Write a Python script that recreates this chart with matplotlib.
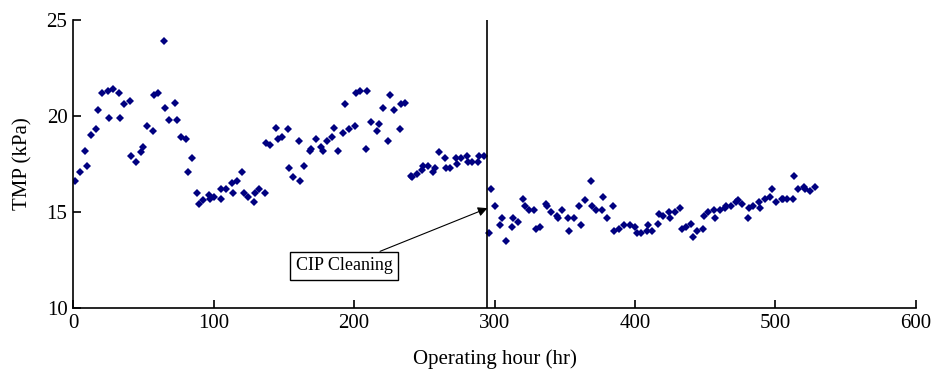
import matplotlib
matplotlib.use('Agg')
import matplotlib.pyplot as plt

# operating hour (hr) and TMP (kPa)
hours = [1.4, 4.7, 8.3, 9.7, 12.6, 16.6, 17.6, 20.6, 24.7, 25.6, 28.7, 32.7, 33.7, 36.5,
         40.6, 41.5, 44.8, 48.4, 49.6, 52.7, 56.7, 57.7, 60.5, 64.8, 65.7, 68.5, 72.6,
         73.8, 76.6, 80.6, 81.6, 84.7, 88.5, 89.4, 92.7, 96.6, 97.5, 100.6, 105.1, 105.6,
         108.6, 113.2, 113.6, 116.7, 120.3, 121.5, 124.6, 128.8, 129.5, 132.4, 136.4,
         137.4, 140.4, 144.5, 145.7, 148.5, 152.8, 153.5, 156.6, 160.6, 161.6, 164.6,
         168.4, 169.4, 172.7, 176.5, 177.7, 180.5, 184.3, 185.5, 188.4, 192.4, 193.6,
         196.4, 200.7, 201.4, 204.3, 208.5, 209.5, 212.3, 216.4, 217.6, 220.4, 224.4,
         225.6, 228.5, 232.5, 233.5, 236.5, 240.6, 241.5, 244.6, 248.4, 249.3, 252.5,
         256.4, 257.4, 260.5, 264.5, 265.5, 268.5, 272.4, 273.3, 276.4, 280.4, 281.4,
         284.2, 288.3, 289.2, 292.3, 296.3, 297.3, 300.4, 304.2, 305.3, 308.4, 312.2,
         313.4, 316.5, 320.3, 321.5, 324.3, 328.3, 329.3, 332.4, 336.4, 337.4, 340.2,
         344.3, 345.2, 348.3, 352.3, 353.3, 356.3, 360.1, 361.3, 364.4, 368.4, 369.4,
         372.2, 376.3, 377.2, 380.3, 384.1, 385.3, 388.4, 392.2, 396.2, 400.2, 401.2,
         404.3, 408.3, 409.3, 412.3, 416.1, 417.1, 420.1, 424.2, 425.1, 428.2, 432.2,
         433.2, 436.3, 440.1, 441.3, 444.3, 448.2, 449.1, 452.2, 456.2, 457.2, 460.3,
         464.1, 465.0, 468.1, 472.1, 473.1, 476.2, 480.2, 481.1, 484.2, 488.3, 489.2,
         492.3, 496.3, 497.3, 500.4, 504.4, 505.3, 508.4, 512.2, 513.2, 516.2, 520.3,
         521.2, 524.3, 528.4]
tmp = [16.6, 17.1, 18.2, 17.4, 19.0, 19.3, 20.3, 21.2, 21.3, 19.9, 21.4, 21.2, 19.9, 20.6,
       20.8, 17.9, 17.6, 18.1, 18.4, 19.5, 19.2, 21.1, 21.2, 23.9, 20.4, 19.8, 20.7,
       19.8, 18.9, 18.8, 17.1, 17.8, 16.0, 15.4, 15.6, 15.9, 15.7, 15.8, 16.2, 15.7,
       16.2, 16.5, 16.0, 16.6, 17.1, 16.0, 15.8, 15.5, 16.0, 16.2, 16.0,
       18.6, 18.5, 19.4, 18.8, 18.9, 19.3, 17.3, 16.8, 18.7, 16.6, 17.4,
       18.2, 18.3, 18.8, 18.4, 18.2, 18.7, 18.9, 19.4, 18.2, 19.1, 20.6,
       19.3, 19.5, 21.2, 21.3, 18.3, 21.3, 19.7, 19.2, 19.6, 20.4, 18.7,
       21.1, 20.3, 19.3, 20.6, 20.7, 16.9, 16.8, 17.0, 17.2, 17.4, 17.4,
       17.1, 17.3, 18.1, 17.8, 17.3, 17.3, 17.8, 17.5, 17.8, 17.9, 17.6,
       17.6, 17.6, 17.9, 17.9, 13.9, 16.2, 15.3, 14.3, 14.7, 13.5, 14.2,
       14.7, 14.5, 15.7, 15.3, 15.1, 15.1, 14.1, 14.2, 15.4, 15.3, 15.0,
       14.8, 14.7, 15.1, 14.7, 14.0, 14.7, 15.3, 14.3, 15.6, 16.6, 15.3,
       15.1, 15.1, 15.8, 14.7, 15.3, 14.0, 14.1, 14.3, 14.3, 14.2, 13.9,
       13.9, 14.0, 14.3, 14.0, 14.4, 14.9, 14.8, 15.0, 14.7, 15.0, 15.2,
       14.1, 14.2, 14.4, 13.7, 14.0, 14.1, 14.8, 15.0, 15.1, 14.7, 15.1,
       15.2, 15.3, 15.3, 15.5, 15.6, 15.4, 14.7, 15.2, 15.3, 15.5, 15.2,
       15.7, 15.8, 16.2, 15.5, 15.7, 15.7, 15.7, 15.7, 16.9, 16.2, 16.3,
       16.2, 16.1, 16.3]

cip_hour = 295
cip_tmp = 15.2

plt.rcParams['font.family'] = ['Liberation Serif', 'DejaVu Serif']

fig = plt.figure(figsize=(9.34, 3.70), dpi=100)
ax = fig.add_axes([0.0782, 0.1676, 0.9025, 0.7784])

ax.plot(hours, tmp, linestyle='none', marker='D', markersize=4,
        color='#000080', markeredgewidth=0)
ax.axvline(cip_hour, color='black', linewidth=1.2)

ax.annotate('CIP Cleaning', xy=(cip_hour, cip_tmp), xytext=(193, 12.2),
            ha='center', va='center', fontsize=13,
            bbox=dict(boxstyle='square,pad=0.3', fc='white', ec='black', lw=1),
            arrowprops=dict(arrowstyle='-|>', color='black', lw=0.8,
                            mutation_scale=14, shrinkA=0, shrinkB=0))

ax.set_xlim(0, 600)
ax.set_ylim(10, 25)
ax.set_xticks(range(0, 601, 100))
ax.set_yticks([10, 15, 20, 25])
ax.spines['top'].set_visible(False)
ax.spines['right'].set_visible(False)
ax.spines['left'].set_linewidth(1.2)
ax.spines['bottom'].set_linewidth(1.2)
ax.tick_params(direction='in', length=6, width=1.2, labelsize=15, pad=4)

ax.set_xlabel('Operating hour (hr)', fontsize=15, labelpad=12)
ax.set_ylabel('TMP (kPa)', fontsize=15, labelpad=10)

fig.savefig('out.png', dpi=100)
